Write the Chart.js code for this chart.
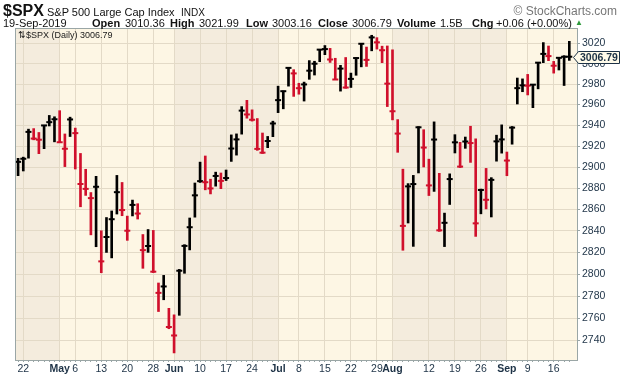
<!DOCTYPE html>
<html><head><meta charset="utf-8">
<script src="https://cdn.jsdelivr.net/npm/chart.js@4/dist/chart.umd.min.js"></script>
<style>
html,body{margin:0;padding:0;background:#fff;}
#wrap{position:relative;width:620px;height:376px;overflow:hidden;}
canvas{position:absolute;left:0;top:0;}
.t{position:absolute;font-family:"Liberation Sans",Arial,sans-serif;color:#111;white-space:nowrap;line-height:1;}
.b{font-weight:bold;}
</style></head><body>
<div id="wrap">
<canvas id="c" width="620" height="376"></canvas>
<div class="t b" style="left:3px;top:3px;font-size:16px;">$SPX</div>
<div class="t" style="left:47px;top:7px;font-size:11px;">S&amp;P 500 Large Cap Index</div>
<div class="t" style="left:181px;top:7.5px;font-size:10px;">INDX</div>
<div class="t" style="right:3px;top:5px;font-size:12px;color:#777;">© StockCharts.com</div>
<div class="t" style="left:3px;top:18px;font-size:11px;">19-Sep-2019</div>
<div class="t b" style="left:92px;top:18px;font-size:11px;">Open</div>
<div class="t" style="left:125px;top:18px;font-size:11px;">3010.36</div>
<div class="t b" style="left:170px;top:18px;font-size:11px;">High</div>
<div class="t" style="left:199px;top:18px;font-size:11px;">3021.99</div>
<div class="t b" style="left:246px;top:18px;font-size:11px;">Low</div>
<div class="t" style="left:272px;top:18px;font-size:11px;">3003.16</div>
<div class="t b" style="left:318px;top:18px;font-size:11px;">Close</div>
<div class="t" style="left:352px;top:18px;font-size:11px;">3006.79</div>
<div class="t b" style="left:397px;top:18px;font-size:11px;">Volume</div>
<div class="t" style="left:440px;top:18px;font-size:11px;">1.5B</div>
<div class="t b" style="left:472px;top:18px;font-size:11px;">Chg</div>
<div class="t" style="left:496px;top:18px;font-size:11px;">+0.06 (+0.00%)</div>
<div class="t" style="left:575px;top:19px;font-size:8px;color:#2e9a3c;">▲</div>
<div class="t" style="left:18px;top:31px;font-size:9px;color:#1a1a1a;">⇅$SPX (Daily) 3006.79</div>
</div>
<script>
const dates = [
'2019-04-18','2019-04-22','2019-04-23','2019-04-24','2019-04-25','2019-04-26','2019-04-29','2019-04-30',
'2019-05-01','2019-05-02','2019-05-03','2019-05-06','2019-05-07','2019-05-08','2019-05-09','2019-05-10','2019-05-13','2019-05-14','2019-05-15','2019-05-16','2019-05-17','2019-05-20','2019-05-21','2019-05-22','2019-05-23','2019-05-24','2019-05-28','2019-05-29','2019-05-30','2019-05-31',
'2019-06-03','2019-06-04','2019-06-05','2019-06-06','2019-06-07','2019-06-10','2019-06-11','2019-06-12','2019-06-13','2019-06-14','2019-06-17','2019-06-18','2019-06-19','2019-06-20','2019-06-21','2019-06-24','2019-06-25','2019-06-26','2019-06-27','2019-06-28',
'2019-07-01','2019-07-02','2019-07-03','2019-07-05','2019-07-08','2019-07-09','2019-07-10','2019-07-11','2019-07-12','2019-07-15','2019-07-16','2019-07-17','2019-07-18','2019-07-19','2019-07-22','2019-07-23','2019-07-24','2019-07-25','2019-07-26','2019-07-29','2019-07-30','2019-07-31',
'2019-08-01','2019-08-02','2019-08-05','2019-08-06','2019-08-07','2019-08-08','2019-08-09','2019-08-12','2019-08-13','2019-08-14','2019-08-15','2019-08-16','2019-08-19','2019-08-20','2019-08-21','2019-08-22','2019-08-23','2019-08-26','2019-08-27','2019-08-28','2019-08-29','2019-08-30',
'2019-09-03','2019-09-04','2019-09-05','2019-09-06','2019-09-09','2019-09-10','2019-09-11','2019-09-12','2019-09-13','2019-09-16','2019-09-17','2019-09-18','2019-09-19'];

const highs = [
2908.40,2909.51,2936.31,2936.83,2933.10,2939.88,2949.52,2948.22,
2954.13,2931.68,2947.85,2937.32,2913.03,2897.96,2875.97,2891.31,2840.19,2852.54,2858.68,2892.15,2885.48,2853.86,2868.88,2865.47,2836.70,2841.36,2840.51,2792.03,2799.00,2768.98,
2763.07,2804.49,2827.28,2852.10,2884.97,2904.77,2910.61,2888.57,2895.24,2894.45,2897.27,2930.79,2931.74,2958.06,2964.15,2954.92,2946.52,2932.59,2929.30,2943.98,
2977.93,2973.21,2995.84,2994.03,2980.76,2981.90,3002.98,3002.33,3013.92,3017.80,3015.02,3005.26,2998.28,3006.02,2990.71,3005.90,3019.59,3016.31,3027.98,3025.61,3017.19,3017.40,
3013.59,2945.50,2898.07,2884.40,2892.17,2938.72,2935.75,2907.58,2943.31,2894.15,2856.67,2893.63,2931.00,2923.63,2928.73,2939.08,2927.01,2879.27,2898.79,2890.03,2930.50,2940.43,
2914.39,2938.84,2985.86,2985.03,2989.43,2979.39,3000.93,3020.74,3017.33,3002.19,3006.21,3007.83,3021.99];

const lows = [
2891.90,2896.35,2908.53,2926.05,2912.84,2917.56,2939.35,2924.11,
2923.36,2900.50,2929.21,2898.21,2862.60,2873.28,2836.40,2825.39,2801.43,2820.12,2815.08,2855.80,2854.23,2831.29,2854.02,2851.11,2805.49,2820.19,2801.58,2766.06,2776.74,2750.52,
2728.81,2762.64,2800.92,2822.45,2852.87,2885.51,2878.53,2874.68,2881.99,2879.62,2887.30,2905.44,2911.43,2931.50,2946.87,2944.05,2916.01,2912.99,2918.57,2929.05,
2952.22,2955.92,2977.96,2967.97,2970.09,2963.44,2984.62,2988.80,3001.87,3008.77,3001.15,2984.25,2973.09,2975.86,2976.65,2988.56,2996.82,2997.24,3012.59,3014.30,3000.94,2958.08,
2945.23,2914.11,2822.12,2847.42,2825.71,2894.47,2900.15,2873.14,2877.05,2839.64,2825.51,2864.74,2913.48,2899.60,2917.91,2904.51,2834.97,2856.00,2860.59,2853.05,2905.67,2913.32,
2891.85,2921.86,2960.60,2972.51,2969.39,2957.01,2975.31,3000.92,3002.90,2990.67,2993.73,2978.57,3003.16];

const closes = [
2905.03,2907.97,2933.68,2927.25,2926.17,2939.88,2943.03,2945.83,
2923.73,2917.52,2945.64,2932.47,2884.05,2879.42,2870.72,2881.40,2811.87,2834.41,2850.96,2876.32,2859.53,2840.23,2864.36,2856.27,2822.24,2826.06,2802.39,2783.02,2788.86,2752.06,
2744.45,2803.27,2826.15,2843.49,2873.34,2886.73,2885.72,2879.84,2891.64,2886.98,2889.67,2917.75,2926.46,2954.18,2950.46,2945.35,2917.38,2913.78,2924.92,2941.76,
2964.33,2973.01,2995.82,2990.41,2975.95,2979.63,2993.07,2999.91,3013.77,3014.30,3004.04,2984.42,2995.11,2976.61,2985.03,3005.47,3019.56,3003.67,3025.86,3020.97,3013.18,2980.38,
2953.56,2932.05,2844.74,2881.77,2883.98,2938.09,2918.65,2882.70,2926.32,2840.60,2847.60,2888.68,2923.65,2900.51,2924.43,2922.95,2847.11,2878.38,2869.16,2887.94,2924.58,2926.46,
2906.27,2937.78,2976.00,2978.71,2978.43,2979.39,3000.93,3009.57,3007.39,2997.96,3005.70,3006.73,3006.79];

const prevClose = 2900.45;

const yTicks = [2740,2760,2780,2800,2820,2840,2860,2880,2900,2920,2940,2960,2980,3000,3020];

const xTickDates = ['2019-04-22','2019-05-01','2019-05-06','2019-05-13','2019-05-20','2019-05-28','2019-06-03','2019-06-10','2019-06-17','2019-06-24','2019-07-01','2019-07-08','2019-07-15','2019-07-22','2019-07-29','2019-08-01','2019-08-12','2019-08-19','2019-08-26','2019-09-03','2019-09-09','2019-09-16'];
const xTickTexts = ['22','May','6','13','20','28','Jun','10','17','24','Jul','8','15','22','29','Aug','12','19','26','Sep','9','16'];
const monthNames = ['May','Jun','Jul','Aug','Sep'];

// shaded month bands (darker): [startDate or null for chart start, endDate]
const shadedBands = [[null,'2019-05-01'],['2019-06-03','2019-07-01'],['2019-08-01','2019-09-03']];

const UP = '#000000', DOWN = '#d0102c';
const LIGHT_BG = '#fdf6e4', DARK_BG = '#f4ecdd', GRID = '#e3dac7', FRAME = '#9aa6a6', LABEL = '#1d3246';
const FONT = '"Liberation Sans", Arial, sans-serif';

const colors = closes.map((c,i) => c >= (i === 0 ? prevClose : closes[i-1]) ? UP : DOWN);
const tickLabelByIndex = {};
xTickDates.forEach((d,k) => { tickLabelByIndex[dates.indexOf(d)] = xTickTexts[k]; });

const bgPlugin = {
  id:'bg',
  beforeDraw(chart){
    const {ctx, chartArea:a, scales:{x}} = chart;
    ctx.save();
    ctx.fillStyle = LIGHT_BG;
    ctx.fillRect(a.left, a.top, a.right-a.left, a.bottom-a.top);
    ctx.fillStyle = DARK_BG;
    shadedBands.forEach(([s,e]) => {
      const x0 = s ? x.getPixelForValue(dates.indexOf(s)) : a.left;
      const x1 = e ? x.getPixelForValue(dates.indexOf(e)) : a.right;
      ctx.fillRect(x0, a.top, x1-x0, a.bottom-a.top);
    });
    ctx.restore();
  },
  beforeDatasetsDraw(chart){
    const {ctx, chartArea:a} = chart;
    ctx.save();
    ctx.strokeStyle = FRAME; ctx.lineWidth = 1;
    ctx.strokeRect(a.left-0.5, a.top-0.5, a.right-a.left+1, a.bottom-a.top+1);
    ctx.restore();
  },
  afterDraw(chart){
    const {ctx, scales:{y}} = chart;
    const last = closes[closes.length-1];
    const py = Math.round(y.getPixelForValue(last)) + 0.5;
    ctx.save();
    ctx.beginPath();
    ctx.moveTo(573.5, py);
    ctx.lineTo(578.5, py-6);
    ctx.lineTo(619.5, py-6);
    ctx.lineTo(619.5, py+6);
    ctx.lineTo(578.5, py+6);
    ctx.closePath();
    ctx.fillStyle = '#fffbea';
    ctx.fill();
    ctx.strokeStyle = LABEL; ctx.lineWidth = 1;
    ctx.stroke();
    ctx.fillStyle = LABEL;
    ctx.font = 'bold 10.5px ' + FONT;
    ctx.textBaseline = 'middle';
    ctx.textAlign = 'left';
    ctx.fillText(last.toFixed(2), 580, py+0.5);
    ctx.restore();
  }
};

new Chart(document.getElementById('c'), {
  type:'bar',
  data:{
    datasets:[
      {
        type:'bar',
        data: dates.map((d,i)=>({x:i, y:[lows[i], highs[i]]})),
        backgroundColor: colors,
        borderWidth:0,
        barThickness:2,
        grouped:false,
        order:2
      },
      {
        type:'line',
        data: dates.map((d,i)=>({x:i, y:closes[i]})),
        showLine:false,
        pointStyle:'line',
        pointRadius:3,
        pointHoverRadius:3,
        pointBorderWidth:2,
        pointBorderColor: colors,
        pointBackgroundColor: colors,
        order:1
      }
    ]
  },
  options:{
    responsive:false,
    animation:false,
    devicePixelRatio:1,
    events:[],
    layout:{padding:{left:16, top:29, right:0, bottom:0}},
    plugins:{legend:{display:false}, tooltip:{enabled:false}},
    scales:{
      x:{
        type:'linear', min:-0.4, max:107.48, offset:false,
        afterBuildTicks: s => { s.ticks = dates.map((d,i)=>({value:i})); },
        afterFit: s => { s.height = 16; },
        border:{display:false},
        grid:{
          offset:false,
          color: ctx => (ctx.tick && tickLabelByIndex[ctx.tick.value] !== undefined) ? GRID : 'rgba(0,0,0,0)',
          lineWidth:1, drawTicks:true, tickLength:2, tickColor: FRAME, tickWidth:1
        },
        ticks:{
          autoSkip:false, maxRotation:0, minRotation:0, padding:1, color: LABEL,
          font: ctx => ({family: FONT, size: 10.5, weight: (ctx.tick && monthNames.includes(tickLabelByIndex[ctx.tick.value])) ? 'bold' : 'normal'}),
          callback: v => tickLabelByIndex[v] !== undefined ? tickLabelByIndex[v] : ''
        }
      },
      y:{
        type:'logarithmic', position:'right', min:2722.5, max:3034.2,
        afterBuildTicks: s => { s.ticks = yTicks.map(v=>({value:v})); },
        afterFit: s => { s.width = 43; },
        border:{display:false},
        grid:{color: GRID, lineWidth:1, drawTicks:true, tickLength:3, tickColor: FRAME},
        ticks:{color: LABEL, padding:2, font:{family: FONT, size:10.5}, callback: v => String(v)}
      }
    }
  },
  plugins:[bgPlugin]
});
</script>
</body></html>
